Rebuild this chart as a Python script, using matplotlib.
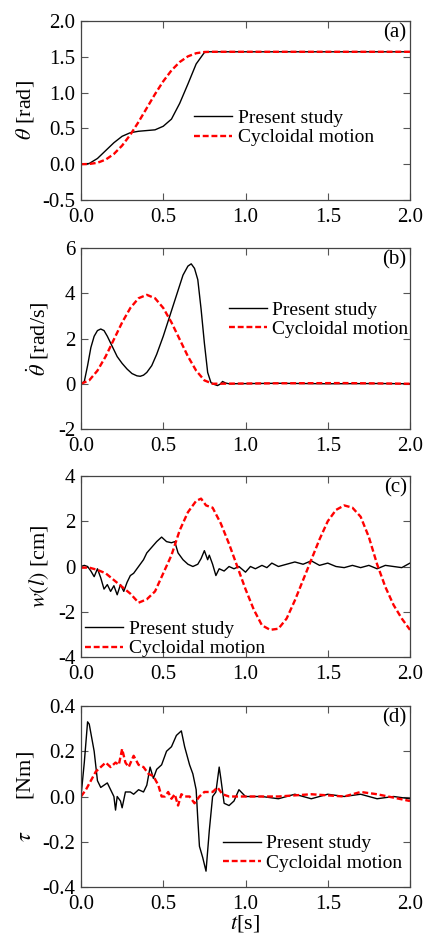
import matplotlib
matplotlib.use('Agg')
import matplotlib.pyplot as plt

plt.rcParams['font.family'] = ['Liberation Serif', 'DejaVu Serif']
plt.rcParams['mathtext.fontset'] = 'stix'
plt.rcParams['axes.unicode_minus'] = False

# (a) rotation angle
ta_ps = [0, 0.05, 0.1, 0.15, 0.2, 0.25, 0.3, 0.35, 0.4, 0.45, 0.5, 0.55, 0.6,
         0.65, 0.7, 0.75, 0.78, 2.0]
a_ps = [0, 0.01, 0.08, 0.19, 0.3, 0.39, 0.44, 0.46, 0.47, 0.48, 0.53, 0.63, 0.85,
        1.12, 1.4, 1.56, 1.57, 1.57]
ta_cy = [0, 0.05, 0.1, 0.15, 0.2, 0.25, 0.3, 0.35, 0.4, 0.45, 0.5, 0.55, 0.6,
         0.65, 0.7, 0.75, 0.8, 2.0]
a_cy = [0, 0.003, 0.02, 0.064, 0.143, 0.26, 0.412, 0.591, 0.785, 0.979, 1.158,
        1.31, 1.427, 1.506, 1.55, 1.567, 1.57, 1.57]

# (b) angular velocity
tb_ps = [0, 0.02, 0.04, 0.06, 0.08, 0.1, 0.12, 0.14, 0.16, 0.18, 0.2, 0.22, 0.25,
         0.28, 0.31, 0.34, 0.36, 0.38, 0.4, 0.43, 0.46, 0.5, 0.54, 0.58, 0.62,
         0.65, 0.67, 0.69, 0.71, 0.73, 0.75, 0.77, 0.79, 0.81, 0.83, 0.85, 0.86,
         0.88, 0.9, 1.2, 1.5, 1.8, 2.0]
b_ps = [0, 0.1, 0.8, 1.6, 2.1, 2.35, 2.42, 2.35, 2.1, 1.8, 1.5, 1.2, 0.9,
        0.65, 0.45, 0.35, 0.33, 0.38, 0.5, 0.8, 1.3, 2.1, 3.0, 3.9, 4.8,
        5.2, 5.3, 5.1, 4.6, 3.3, 1.8, 0.5, 0.05, -0.03, -0.08, 0.0, 0.1,
        0.03, 0.0, 0.02, 0.0, 0.01, 0.0]
tb_cy = [0, 0.05, 0.1, 0.15, 0.2, 0.25, 0.3, 0.35, 0.4, 0.45, 0.5, 0.55, 0.6,
         0.65, 0.7, 0.75, 0.8, 1.2, 1.6, 2.0]
b_cy = [0, 0.15, 0.58, 1.21, 1.96, 2.71, 3.35, 3.78, 3.93, 3.78, 3.35, 2.71, 1.96,
        1.21, 0.58, 0.15, 0, 0.02, 0.03, 0.0]

# (c) tip deflection
tc_ps = [0, 0.02, 0.04, 0.06, 0.08, 0.1, 0.12, 0.14, 0.16, 0.18, 0.2, 0.22, 0.24,
         0.26, 0.28, 0.3, 0.32, 0.35, 0.38, 0.4, 0.43, 0.46, 0.49, 0.52, 0.55,
         0.57, 0.59, 0.62, 0.65, 0.68, 0.71, 0.73, 0.75, 0.77, 0.78, 0.8, 0.82,
         0.84, 0.87, 0.9, 0.93, 0.96, 1.0, 1.03, 1.06, 1.1, 1.13, 1.16, 1.2,
         1.25, 1.3, 1.35, 1.4, 1.45, 1.5, 1.55, 1.6, 1.65, 1.7, 1.75, 1.8,
         1.85, 1.9, 1.95, 2.0]
c_ps = [0, 0.05, 0.0, -0.2, -0.45, -0.1, -0.5, -1.0, -0.8, -1.1, -0.85, -1.25, -0.8,
        -1.1, -0.7, -0.4, -0.3, 0.0, 0.3, 0.6, 0.85, 1.1, 1.3, 1.1, 1.05,
        1.1, 0.6, 0.3, 0.1, 0.0, 0.1, 0.35, 0.7, 0.3, 0.5, 0.1, -0.4,
        -0.1, -0.2, 0.0, -0.1, 0.0, -0.25, 0.0, -0.1, 0.05, -0.05, 0.15, 0.0,
        0.1, 0.2, 0.1, 0.25, 0.05, 0.15, 0.0, -0.05, 0.05, -0.05, 0.05, -0.1,
        0.05, 0.0, -0.05, 0.15]
tc_cy = [0, 0.05, 0.1, 0.15, 0.2, 0.25, 0.3, 0.35, 0.4, 0.45, 0.5, 0.55, 0.6,
         0.65, 0.7, 0.73, 0.76, 0.8, 0.85, 0.9, 0.95, 1.0, 1.05, 1.1, 1.15,
         1.2, 1.25, 1.3, 1.35, 1.4, 1.45, 1.5, 1.55, 1.6, 1.65, 1.7, 1.75,
         1.8, 1.85, 1.9, 1.95, 2.0]
c_cy = [-0.05, -0.05, -0.15, -0.3, -0.6, -0.9, -1.2, -1.6, -1.45, -1.1, -0.3, 0.5, 1.6,
        2.4, 2.9, 3.0, 2.7, 2.6, 1.9, 1.0, 0.0, -1.0, -1.9, -2.6, -2.8,
        -2.75, -2.3, -1.5, -0.6, 0.3, 1.2, 2.0, 2.5, 2.7, 2.6, 2.2, 1.3,
        0.1, -0.9, -1.7, -2.3, -2.8]

# (d) joint torque
td_ps = [0, 0.02, 0.04, 0.05, 0.06, 0.08, 0.1, 0.12, 0.14, 0.16, 0.18, 0.2, 0.21,
         0.22, 0.24, 0.25, 0.27, 0.3, 0.32, 0.35, 0.38, 0.4, 0.42, 0.44, 0.46,
         0.49, 0.52, 0.55, 0.58, 0.61, 0.63, 0.66, 0.68, 0.7, 0.71, 0.72, 0.74,
         0.76, 0.78, 0.8, 0.82, 0.84, 0.85, 0.87, 0.9, 0.93, 0.96, 1.0, 1.1,
         1.2, 1.3, 1.4, 1.5, 1.6, 1.7, 1.8, 1.9, 2.0]
d_ps = [0, 0.15, 0.33, 0.32, 0.28, 0.2, 0.07, 0.04, 0.05, 0.06, 0.03, 0.0, -0.06,
        0.0, -0.02, -0.05, 0.02, 0.02, 0.01, 0.03, 0.02, 0.05, 0.13, 0.08, 0.12,
        0.14, 0.2, 0.22, 0.27, 0.29, 0.22, 0.14, 0.1, 0.03, -0.1, -0.22, -0.27,
        -0.33, -0.15, 0.0, 0.02, 0.13, 0.08, -0.03, -0.04, -0.02, 0.03, 0.0, 0.0,
        -0.01, 0.01, -0.01, 0.01, 0.0, 0.01, -0.01, 0.0, -0.01]
td_cy = [0, 0.03, 0.06, 0.09, 0.12, 0.15, 0.18, 0.21, 0.23, 0.25, 0.27, 0.29, 0.32,
         0.35, 0.38, 0.41, 0.44, 0.47, 0.49, 0.51, 0.53, 0.55, 0.57, 0.59, 0.61,
         0.63, 0.66, 0.69, 0.72, 0.75, 0.78, 0.8, 0.83, 0.86, 0.9, 1.0, 1.2,
         1.4, 1.6, 1.7, 1.8, 2.0]
d_cy = [0, 0.03, 0.07, 0.11, 0.13, 0.15, 0.13, 0.15, 0.14, 0.21, 0.15, 0.13, 0.18,
        0.14, 0.13, 0.1, 0.09, 0.05, 0.0, 0.0, 0.02, -0.01, 0.01, -0.04, 0.01,
        0.0, 0.0, -0.03, 0.0, 0.02, 0.02, 0.02, 0.04, 0.01, 0.0, 0.0, 0.0,
        0.01, 0.0, 0.02, 0.01, -0.02]

panels = [
    (ta_ps, a_ps, ta_cy, a_cy, (-0.5, 2.0), 0.5, '%.1f', r'$\theta$ [rad]', '(a)'),
    (tb_ps, b_ps, tb_cy, b_cy, (-2, 6), 2, '%d', r'$\dot{\theta}$ [rad/s]', '(b)'),
    (tc_ps, c_ps, tc_cy, c_cy, (-4, 4), 2, '%d', r'$w(l)$ [cm]', '(c)'),
    (td_ps, d_ps, td_cy, d_cy, (-0.4, 0.4), 0.2, '%.1f', r'$\tau$      [Nm]', '(d)'),
]
boxes = [(21, 200), (248, 429), (476, 657), (706, 887)]
leg_pos = [(0.32, 0.55), (0.425, 0.75), (-0.01, -0.045), (0.407, 0.04)]
leg_loc = ['upper left', 'upper left', 'lower left', 'lower left']

fig = plt.figure(figsize=(4.26, 9.38), dpi=100)
H = 938.0
for i, (tp, yp, tcy, ycy, ylim, step, fmt, ylab, tag) in enumerate(panels):
    top, bot = boxes[i]
    ax = fig.add_axes([81 / 426, 1 - bot / H, 329 / 426, (bot - top) / H])
    ax.plot(tp, yp, color='black', lw=1.0, label='Present study')
    ax.plot(tcy, ycy, color='#ff0000', lw=1.7, ls=(0, (2.5, 1.2)), label='Cycloidal motion')
    ax.set_xlim(0, 2.0)
    ax.set_ylim(*ylim)
    ax.set_xticks([0, 0.5, 1.0, 1.5, 2.0])
    ax.set_xticklabels(['0.0', '0.5', '1.0', '1.5', '2.0'])
    yt = []
    v = ylim[0]
    while v <= ylim[1] + 1e-9:
        yt.append(round(v, 3))
        v += step
    ax.set_yticks(yt)
    ax.set_yticklabels([fmt % y for y in yt])
    ax.tick_params(direction='in', top=True, right=True, length=5, width=0.8,
                   labelsize=15, color='#555555')
    ax.tick_params(axis='x', pad=6)
    ax.tick_params(axis='y', pad=4)
    for s in ax.spines.values():
        s.set_linewidth(0.9)
        s.set_color('#444444')
    ax.set_ylabel(ylab, fontsize=16, labelpad=5)
    ax.text(0.99, 0.985, tag, transform=ax.transAxes, ha='right', va='top', fontsize=15)
    ax.legend(loc=leg_loc[i], bbox_to_anchor=leg_pos[i], frameon=False, fontsize=14,
              handlelength=1.95, handletextpad=0.3, labelspacing=0.1, borderaxespad=0.0)
    if i == 3:
        ax.set_xlabel(r'$t$[s]', fontsize=16, labelpad=-1)

fig.savefig('out.png', dpi=100)
